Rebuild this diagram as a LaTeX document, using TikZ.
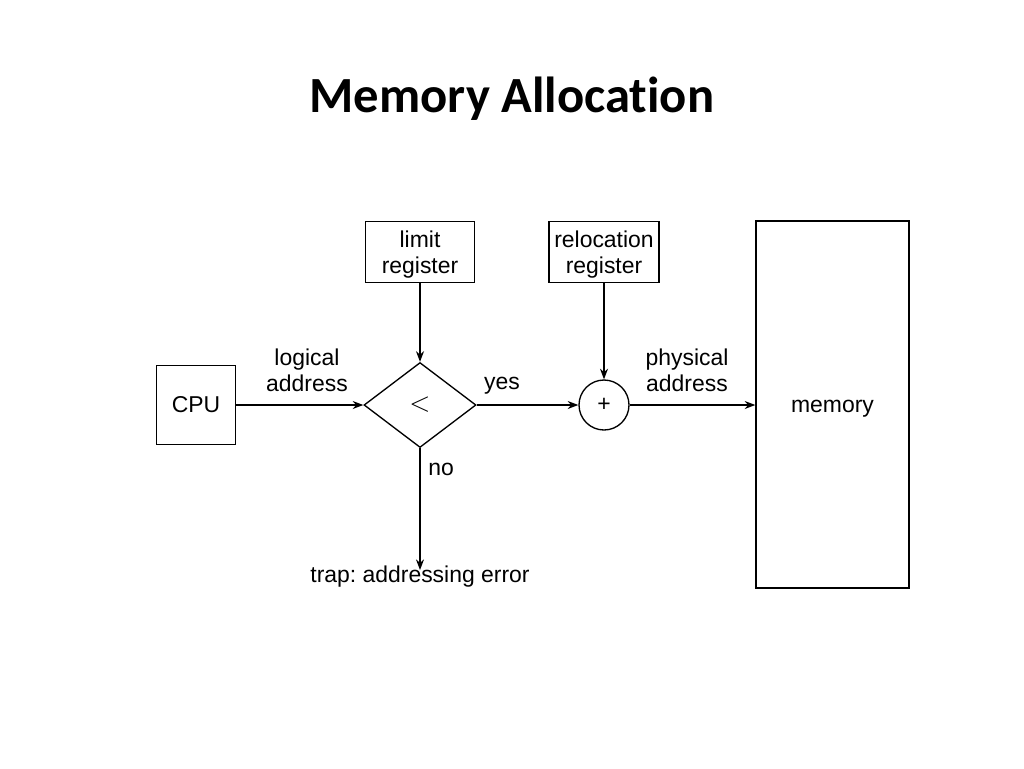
\documentclass[tikz,border=0pt]{standalone}
\usepackage{fontspec}
\setmainfont{Liberation Sans}
\newfontfamily\titlefont[Ligatures=NoCommon]{Carlito}
\usetikzlibrary{shapes.geometric,arrows.meta}
\begin{document}
\frenchspacing
\begin{tikzpicture}[x=0.75pt,y=-0.75pt,
  box/.style={draw,line width=1pt,inner sep=0pt,align=center,font=\fontsize{17.2}{19.5}\selectfont},
  lbl/.style={inner sep=0pt,align=center,font=\fontsize{17.2}{19.5}\selectfont},
  arr/.style={line width=1.1pt,-{Stealth[length=8pt,width=6pt]}}]
\useasboundingbox (0,0) rectangle (1024,768);
\node[font=\titlefont\bfseries\fontsize{38}{44}\selectfont] (title) at (512,99) {Memory Allocation};
\node[box,minimum width=59.25pt,minimum height=59.25pt] (cpu) at (196,405) {CPU};
\node[box,text depth=0pt,minimum width=81.75pt,minimum height=45.75pt] (limit) at (420,252) {limit\\register};
\node[box,text depth=0pt,minimum width=82.5pt,minimum height=45.75pt] (reloc) at (604,252) {relocation\\register};
\node[box,diamond,minimum width=84pt,minimum height=63.75pt] (dia) at (420,405) {\fontsize{20}{22}\selectfont$<$};
\node[box,circle,minimum size=37.5pt] (plus) at (604,405) {+};
\node[box,text depth=0pt,minimum width=114.75pt,minimum height=275.25pt] (mem) at (832.5,404.5) {\raisebox{-3pt}{memory}};
\node[lbl] (logical) at (307,370) {logical\\address};
\node[lbl] (yes) at (502,386) {yes};
\node[lbl] (phys) at (687,370) {physical\\address};
\node[lbl] (no) at (441,469) {no};
\node[lbl] (trap) at (420,577) {trap: addressing error};
\draw[arr] (cpu) -- (dia);
\draw[arr] (limit) -- (dia);
\draw[arr] (dia) -- (plus);
\draw[arr] (reloc) -- (plus);
\draw[arr] (plus.east) -- (plus.east -| mem.west);
\draw[arr] (dia.south) -- ([yshift=-3pt]trap.north);
\end{tikzpicture}
\end{document}
